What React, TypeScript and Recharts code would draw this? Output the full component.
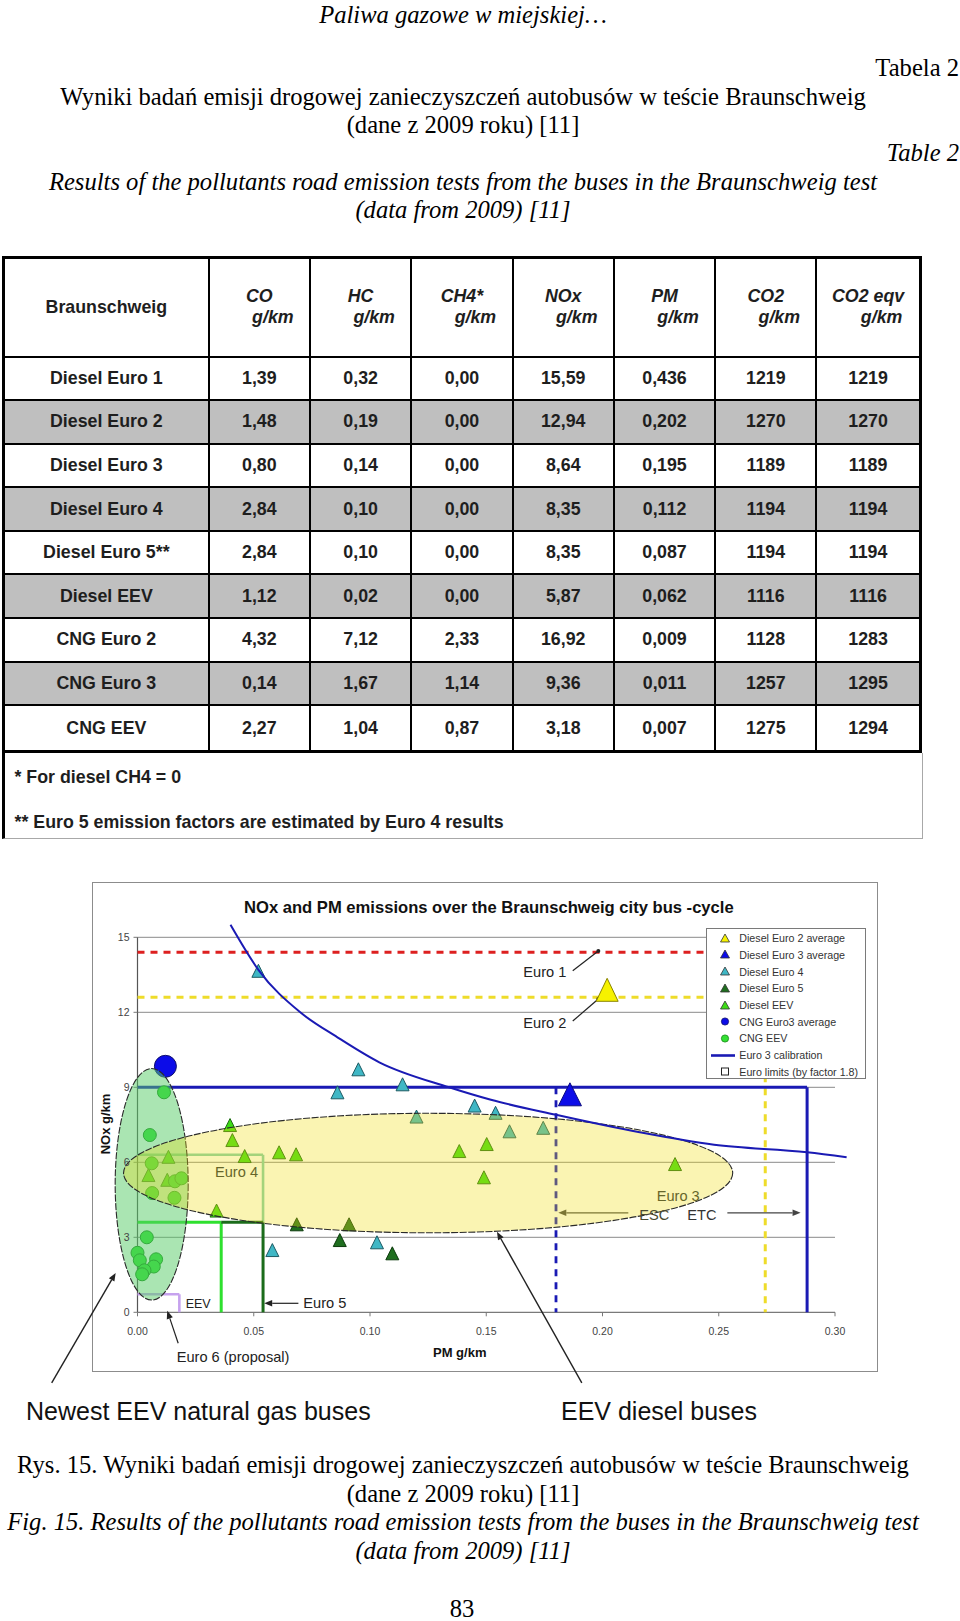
import React from 'react';
import { ScatterChart, Scatter, XAxis, YAxis, ReferenceLine, ReferenceArea } from 'recharts';

const SANS = '"Liberation Sans", Arial, sans-serif';
const SERIF = '"Liberation Serif", "Times New Roman", serif';

// ---- table data (Tabela 2) ----
const tableHead = ['CO', 'HC', 'CH4*', 'NOx', 'PM', 'CO2', 'CO2 eqv'];
const busTypes = ['Diesel Euro 1', 'Diesel Euro 2', 'Diesel Euro 3', 'Diesel Euro 4', 'Diesel Euro 5**', 'Diesel EEV', 'CNG Euro 2', 'CNG Euro 3', 'CNG EEV'];
const coValues = ['1,39', '1,48', '0,80', '2,84', '2,84', '1,12', '4,32', '0,14', '2,27'];
const hcValues = ['0,32', '0,19', '0,14', '0,10', '0,10', '0,02', '7,12', '1,67', '1,04'];
const ch4Values = ['0,00', '0,00', '0,00', '0,00', '0,00', '0,00', '2,33', '1,14', '0,87'];
const noxValues = ['15,59', '12,94', '8,64', '8,35', '8,35', '5,87', '16,92', '9,36', '3,18'];
const pmValues = ['0,436', '0,202', '0,195', '0,112', '0,087', '0,062', '0,009', '0,011', '0,007'];
const co2Values = ['1219', '1270', '1189', '1194', '1194', '1116', '1128', '1257', '1275'];
const co2eqvValues = ['1219', '1270', '1189', '1194', '1194', '1116', '1283', '1295', '1294'];
const tableNotes = ['* For diesel CH4 = 0', '** Euro 5 emission factors are estimated by Euro 4 results'];

// ---- chart data (Rys. 15) ----
const xTicks = [0, 0.05, 0.1, 0.15, 0.2, 0.25, 0.3];
const yTicks = [0, 3, 6, 9, 12, 15];
const xMax = 0.3;
const yMax = 15;

const dieselEuro2Avg = [{ x: 0.202, y: 12.9 }];
const dieselEuro3Avg = [{ x: 0.186, y: 8.72 }];
const dieselEuro4 = [
  { x: 0.052, y: 13.66 }, { x: 0.086, y: 8.8 }, { x: 0.095, y: 9.72 }, { x: 0.114, y: 9.12 },
  { x: 0.145, y: 8.27 }, { x: 0.154, y: 7.98 }, { x: 0.12, y: 7.83 }, { x: 0.16, y: 7.24 },
  { x: 0.1745, y: 7.38 }, { x: 0.058, y: 2.49 }, { x: 0.103, y: 2.8 },
];
const dieselEuro5 = [{ x: 0.0685, y: 3.52 }, { x: 0.091, y: 3.52 }, { x: 0.087, y: 2.89 }, { x: 0.1096, y: 2.36 }];
const dieselEEV = [
  { x: 0.0398, y: 7.49 }, { x: 0.0408, y: 6.89 }, { x: 0.0461, y: 6.25 }, { x: 0.0609, y: 6.4 },
  { x: 0.0682, y: 6.32 }, { x: 0.0133, y: 6.22 }, { x: 0.0047, y: 5.49 }, { x: 0.0128, y: 5.3 },
  { x: 0.034, y: 4.07 }, { x: 0.1384, y: 6.45 }, { x: 0.1502, y: 6.73 }, { x: 0.149, y: 5.4 },
  { x: 0.2312, y: 5.93 },
];
const cngEuro3Avg = [{ x: 0.012, y: 9.84 }];
const cngEEV = [
  { x: 0.0114, y: 8.8 }, { x: 0.0053, y: 7.09 }, { x: 0.0061, y: 5.96 }, { x: 0.0161, y: 5.24 },
  { x: 0.0189, y: 5.36 }, { x: 0.0063, y: 4.77 }, { x: 0.0159, y: 4.58 }, { x: 0.004, y: 3.0 },
  { x: 0.0, y: 2.38 }, { x: 0.001, y: 2.08 }, { x: 0.008, y: 2.12 }, { x: 0.007, y: 1.83 },
  { x: 0.003, y: 1.68 }, { x: 0.002, y: 1.52 },
];
const euro3Calibration = [
  { x: 0.04, y: 15.5 }, { x: 0.052, y: 13.7 }, { x: 0.07, y: 12.0 }, { x: 0.086, y: 11.0 },
  { x: 0.104, y: 10.0 }, { x: 0.134, y: 9.0 }, { x: 0.152, y: 8.5 }, { x: 0.18, y: 7.9 },
  { x: 0.216, y: 7.2 }, { x: 0.248, y: 6.7 }, { x: 0.288, y: 6.4 }, { x: 0.305, y: 6.2 },
];

// Euro limits multiplied by factor 1.8: Euro 1..6
const limitNox = [14.4, 12.6, 9.0, 6.3, 3.6, 0.72];
const limitPmEsc = [xMax, 0.27, 0.18, 0.054, 0.036, 0.018];
const limitPmEtc = [xMax, 0.27, 0.288, 0.054, 0.054, 0.018];

// highlighted groups (PM range, NOx range)
const cngEllipseX = [-0.0096, 0.0218];
const cngEllipseY = [0.49, 9.75];
const dieselEllipseX = [-0.006, 0.256];
const dieselEllipseY = [3.18, 7.96];

// annotation pointers [from, to] in PM / NOx units
const euro1Leader = [{ x: 0.1872, y: 13.66 }, { x: 0.1982, y: 14.45 }];
const euro2Leader = [{ x: 0.1872, y: 11.65 }, { x: 0.1982, y: 12.53 }];
const escArrow = [{ x: 0.2111, y: 3.98 }, { x: 0.181, y: 3.98 }];
const etcArrow = [{ x: 0.2537, y: 3.98 }, { x: 0.2852, y: 3.98 }];
const euro5Arrow = [{ x: 0.0692, y: 0.36 }, { x: 0.0545, y: 0.36 }];
const euro6Arrow = [{ x: 0.0175, y: -1.24 }, { x: 0.0128, y: 0.06 }];
const cngBusArrow = [{ x: -0.0369, y: -2.82 }, { x: -0.0094, y: 1.57 }];
const dieselBusArrow = [{ x: 0.1911, y: -2.82 }, { x: 0.1546, y: 3.22 }];

const legendLabels = [
  'Diesel Euro 2 average', 'Diesel Euro 3 average', 'Diesel Euro 4', 'Diesel Euro 5', 'Diesel EEV',
  'CNG Euro3 average', 'CNG EEV', 'Euro 3 calibration', 'Euro limits (by factor 1.8)',
];

const COL = {
  yellow: '#f6f200',
  blue: '#0c0ce8',
  teal: '#3fb7c5',
  dark: '#1f6e1f',
  green: '#3ddc16',
  cng: '#34e034',
  line: '#1a1ab4',
  red: '#dd2020',
  dash: '#eedc2a',
};

const T = ({ x = 0, y, w, align = 'left', size, family = SANS, weight = 400, italic = false, color = '#000', children }: any) => (
  <div
    style={{
      position: 'absolute', left: x, top: y, width: w, textAlign: align, fontSize: size, fontFamily: family,
      fontWeight: weight, fontStyle: italic ? 'italic' : 'normal', color, whiteSpace: 'nowrap', lineHeight: 1,
      transform: 'translateY(-50%)',
    }}
  >
    {children}
  </div>
);

const triangle = (fill: string, stroke: string, w: number, h: number) => (p: any) => {
  const cx = p.cx ?? 0;
  const cy = p.cy ?? 0;
  return (
    <polygon
      points={`${cx},${cy - h / 2} ${cx + w / 2},${cy + h / 2} ${cx - w / 2},${cy + h / 2}`}
      fill={fill}
      stroke={stroke}
      strokeWidth={1}
    />
  );
};

const circle = (fill: string, stroke: string, r: number) => (p: any) => (
  <circle cx={p.cx ?? 0} cy={p.cy ?? 0} r={r} fill={fill} stroke={stroke} strokeWidth={1} />
);

const ellipse = (fill: string, opacity: number) => (p: any) => {
  const { x = 0, y = 0, width = 0, height = 0 } = p;
  return (
    <ellipse
      cx={x + width / 2}
      cy={y + height / 2}
      rx={Math.abs(width) / 2}
      ry={Math.abs(height) / 2}
      fill={fill}
      fillOpacity={opacity}
      stroke="#2a2a2a"
      strokeWidth={1.1}
      strokeDasharray="7 1.5"
    />
  );
};

const pointer = (color: string, head: boolean, dot = false, width = 1.2) => (p: any) => {
  const { x1 = 0, y1 = 0, x2 = 0, y2 = 0 } = p;
  const a = Math.atan2(y2 - y1, x2 - x1);
  const L = 8;
  const W = 3.2;
  const hx = x2 - L * Math.cos(a);
  const hy = y2 - L * Math.sin(a);
  const pts = `${x2},${y2} ${hx - W * Math.sin(a)},${hy + W * Math.cos(a)} ${hx + W * Math.sin(a)},${hy - W * Math.cos(a)}`;
  return (
    <g>
      <line x1={x1} y1={y1} x2={head ? hx : x2} y2={head ? hy : y2} stroke={color} strokeWidth={width} />
      {head && <polygon points={pts} fill={color} />}
      {dot && <circle cx={x2} cy={y2} r={2} fill={color} />}
    </g>
  );
};

const seg = (x1: number, y1: number, x2: number, y2: number) => [{ x: x1, y: y1 }, { x: x2, y: y2 }];

const EmissionTable = () => {
  const columns = [coValues, hcValues, ch4Values, noxValues, pmValues, co2Values, co2eqvValues];
  const cell = (col: number, row: number, extra: any = {}) => ({
    boxSizing: 'border-box' as const,
    borderRight: col < 7 ? '2px solid #000' : 'none',
    borderBottom: row < 9 ? '2px solid #000' : 'none',
    display: 'flex',
    alignItems: 'center',
    justifyContent: 'center',
    background: row > 0 && row % 2 === 0 ? '#bfbfbf' : '#fff',
    ...extra,
  });
  return (
    <>
      <div
        style={{
          position: 'absolute', left: 2, top: 256, border: '3px solid #000', display: 'grid',
          gridTemplateColumns: '204.7px repeat(7, 101.3px)', gridTemplateRows: '98.5px repeat(9, 43.6px)',
          fontFamily: SANS, fontWeight: 700, fontSize: 17.8, color: '#1e1e1e',
        }}
      >
        <div style={cell(0, 0)}>Braunschweig</div>
        {tableHead.map((h, i) => (
          <div key={h} style={cell(i + 1, 0, { flexDirection: 'column', fontStyle: 'italic', lineHeight: '21.4px' })}>
            <span>{h}</span>
            <span style={{ paddingLeft: 27 }}>g/km</span>
          </div>
        ))}
        {busTypes.map((b, r) => (
          <React.Fragment key={b}>
            <div style={cell(0, r + 1)}>{b}</div>
            {columns.map((c, i) => (
              <div key={i} style={cell(i + 1, r + 1)}>{c[r]}</div>
            ))}
          </React.Fragment>
        ))}
      </div>
      <div
        style={{
          position: 'absolute', left: 2, top: 753, width: 921, height: 86, boxSizing: 'border-box',
          borderLeft: '3px solid #000', borderRight: '1px solid #a8a8a8', borderBottom: '1px solid #a8a8a8',
        }}
      />
      <T x={14.5} y={778} size={17.8} weight={700} color="#1e1e1e">{tableNotes[0]}</T>
      <T x={14.5} y={822.6} size={17.8} weight={700} color="#1e1e1e">{tableNotes[1]}</T>
    </>
  );
};

const legendSymbol = (i: number) => {
  if (i <= 4) {
    const fills = [COL.yellow, COL.blue, COL.teal, COL.dark, COL.green];
    return <polygon points="9,3 13.5,11 4.5,11" fill={fills[i]} stroke="#333" strokeWidth={0.8} />;
  }
  if (i === 5) return <circle cx={9} cy={7.5} r={3.6} fill={COL.blue} stroke="#10106a" strokeWidth={0.8} />;
  if (i === 6) return <circle cx={9} cy={7.5} r={3.6} fill={COL.cng} stroke="#138813" strokeWidth={0.8} />;
  if (i === 7) return <line x1={-5} y1={7.5} x2={19} y2={7.5} stroke={COL.line} strokeWidth={2.6} />;
  return <rect x={5.5} y={4} width={7} height={7} fill="#fff" stroke="#222" strokeWidth={1} />;
};

const ChartLegend = () => (
  <div
    style={{
      position: 'absolute', left: 705.7, top: 927.7, width: 160, height: 151.3, boxSizing: 'border-box',
      border: '1px solid #7a7a7a', background: '#fff', fontFamily: SANS, fontSize: 10.7, color: '#333',
    }}
  >
    {legendLabels.map((label, i) => (
      <div key={label} style={{ position: 'absolute', left: 0, top: 1.6 + i * 16.7, height: 16, display: 'flex', alignItems: 'center' }}>
        <svg width={18} height={15} style={{ marginLeft: 9.6, overflow: 'visible' }}>{legendSymbol(i)}</svg>
        <span style={{ marginLeft: 5, whiteSpace: 'nowrap' }}>{label}</span>
      </div>
    ))}
  </div>
);

const NoxPmChart = () => (
  <>
    <div
      style={{
        position: 'absolute', left: 92, top: 882, width: 786, height: 490, boxSizing: 'border-box',
        border: '1.5px solid #8c8c8c', background: '#fff',
      }}
    />
    <div style={{ position: 'absolute', left: 0, top: 882, width: 960, height: 560 }}>
      <ScatterChart width={960} height={560} margin={{ top: 40.3, right: 101.75, bottom: 99.7, left: 92.5 }}>
        <XAxis
          type="number"
          dataKey="x"
          domain={[0, 0.31]}
          ticks={xTicks}
          tickFormatter={(v: number) => v.toFixed(2)}
          axisLine={false}
          tickSize={4}
          tickLine={{ stroke: '#777' }}
          tickMargin={11}
          tick={{ fontSize: 10.5, fill: '#444', fontFamily: SANS }}
          height={30}
        />
        <YAxis
          type="number"
          dataKey="y"
          domain={[0, 15.6]}
          ticks={yTicks}
          axisLine={false}
          tickSize={4}
          tickLine={{ stroke: '#777' }}
          tickMargin={4}
          tick={{ fontSize: 10.5, fill: '#444', fontFamily: SANS }}
          width={45}
        />

        {yTicks.slice(1).map((v) => (
          <ReferenceLine key={`g${v}`} segment={seg(0, v, xMax, v)} stroke="#8a8a8a" strokeWidth={1} ifOverflow="visible" />
        ))}
        <ReferenceLine segment={seg(0, 0, xMax, 0)} stroke="#7a7a7a" strokeWidth={1.2} ifOverflow="visible" />
        <ReferenceLine segment={seg(0, 0, 0, yMax)} stroke="#555" strokeWidth={1.2} ifOverflow="visible" />

        {/* Euro 1 and Euro 2 */}
        <ReferenceLine segment={seg(0, limitNox[0], limitPmEtc[0], limitNox[0])} stroke={COL.red} strokeWidth={3} strokeDasharray="7 6" ifOverflow="visible" />
        <ReferenceLine segment={seg(0, limitNox[1], limitPmEtc[1], limitNox[1])} stroke={COL.dash} strokeWidth={3} strokeDasharray="7 6" ifOverflow="visible" />
        <ReferenceLine segment={seg(limitPmEtc[1], limitNox[1], limitPmEtc[1], 0)} stroke={COL.dash} strokeWidth={3} strokeDasharray="7 6" ifOverflow="visible" />
        {/* Euro 3 */}
        <ReferenceLine segment={seg(0, limitNox[2], limitPmEtc[2], limitNox[2])} stroke={COL.line} strokeWidth={3} ifOverflow="visible" />
        <ReferenceLine segment={seg(limitPmEtc[2], limitNox[2], limitPmEtc[2], 0)} stroke={COL.line} strokeWidth={3} ifOverflow="visible" />
        <ReferenceLine segment={seg(limitPmEsc[2], limitNox[2], limitPmEsc[2], 0)} stroke={COL.line} strokeWidth={2.8} strokeDasharray="7 6" ifOverflow="visible" />
        {/* Euro 4 */}
        <ReferenceLine segment={seg(0, limitNox[3], limitPmEtc[3], limitNox[3])} stroke="#80cfae" strokeWidth={2.6} ifOverflow="visible" />
        <ReferenceLine segment={seg(limitPmEtc[3], limitNox[3], limitPmEtc[3], limitNox[4])} stroke="#80cfae" strokeWidth={2.6} ifOverflow="visible" />
        {/* Euro 5 */}
        <ReferenceLine segment={seg(0, limitNox[4], limitPmEsc[4], limitNox[4])} stroke="#2ee02e" strokeWidth={3} ifOverflow="visible" />
        <ReferenceLine segment={seg(limitPmEsc[4], limitNox[4], limitPmEsc[4], 0)} stroke="#2ee02e" strokeWidth={3} ifOverflow="visible" />
        <ReferenceLine segment={seg(limitPmEsc[4], limitNox[4], limitPmEtc[4], limitNox[4])} stroke="#1b6c1b" strokeWidth={3} ifOverflow="visible" />
        <ReferenceLine segment={seg(limitPmEtc[4], limitNox[4], limitPmEtc[4], 0)} stroke="#1b6c1b" strokeWidth={3} ifOverflow="visible" />
        {/* Euro 6 proposal / EEV */}
        <ReferenceLine segment={seg(0, limitNox[5], limitPmEtc[5], limitNox[5])} stroke="#c6a2ee" strokeWidth={2.6} ifOverflow="visible" />
        <ReferenceLine segment={seg(limitPmEtc[5], limitNox[5], limitPmEtc[5], 0)} stroke="#c6a2ee" strokeWidth={2.6} ifOverflow="visible" />

        {/* annotation pointers */}
        <ReferenceLine segment={euro1Leader} shape={pointer('#222', false, true)} ifOverflow="visible" />
        <ReferenceLine segment={euro2Leader} shape={pointer('#222', false, true)} ifOverflow="visible" />
        <ReferenceLine segment={escArrow} shape={pointer('#444', true)} ifOverflow="visible" />
        <ReferenceLine segment={etcArrow} shape={pointer('#444', true)} ifOverflow="visible" />
        <ReferenceLine segment={euro5Arrow} shape={pointer('#222', true)} ifOverflow="visible" />
        <ReferenceLine segment={euro6Arrow} shape={pointer('#222', true)} ifOverflow="visible" />
        <ReferenceLine segment={cngBusArrow} shape={pointer('#222', true, false, 1.4)} ifOverflow="visible" />
        <ReferenceLine segment={dieselBusArrow} shape={pointer('#222', true, false, 1.4)} ifOverflow="visible" />

        <Scatter name="Diesel Euro 4" data={dieselEuro4} shape={triangle(COL.teal, '#1d5a62', 13, 13)} isAnimationActive={false} />
        <Scatter name="Diesel Euro 5" data={dieselEuro5} shape={triangle(COL.dark, '#0c3a0c', 13, 13)} isAnimationActive={false} />
        <Scatter name="Diesel EEV" data={dieselEEV} shape={triangle(COL.green, '#1d6a12', 13, 13)} isAnimationActive={false} />
        <Scatter name="CNG EEV" data={cngEEV} shape={circle(COL.cng, '#148814', 6.5)} isAnimationActive={false} />
        <Scatter name="Diesel Euro 2 average" data={dieselEuro2Avg} shape={triangle(COL.yellow, '#8a8400', 22, 23)} isAnimationActive={false} />
        <Scatter name="Diesel Euro 3 average" data={dieselEuro3Avg} shape={triangle(COL.blue, '#0a0a80', 23, 23)} isAnimationActive={false} />
        <Scatter name="CNG Euro3 average" data={cngEuro3Avg} shape={circle(COL.blue, '#10106a', 11)} isAnimationActive={false} />

        <ReferenceArea x1={cngEllipseX[0]} x2={cngEllipseX[1]} y1={cngEllipseY[0]} y2={cngEllipseY[1]} shape={ellipse('#55cc66', 0.5)} ifOverflow="visible" zIndex={650} />
        <ReferenceArea x1={dieselEllipseX[0]} x2={dieselEllipseX[1]} y1={dieselEllipseY[0]} y2={dieselEllipseY[1]} shape={ellipse('#eedd10', 0.32)} ifOverflow="visible" zIndex={660} />

        <Scatter
          name="Euro 3 calibration"
          data={euro3Calibration}
          line={{ stroke: COL.line, strokeWidth: 2 }}
          lineJointType="monotoneX"
          shape={() => <g />}
          isAnimationActive={false}
          zIndex={700}
        />
      </ScatterChart>
    </div>
    <T x={244} y={908} size={16.6} weight={700} color="#111">NOx and PM emissions over the Braunschweig city bus -cycle</T>
    <ChartLegend />
    <div
      style={{
        position: 'absolute', left: 105, top: 1124, fontFamily: SANS, fontWeight: 700, fontSize: 13, color: '#111',
        whiteSpace: 'nowrap', lineHeight: 1, transform: 'translate(-50%, -50%) rotate(-90deg)',
      }}
    >
      NOx g/km
    </div>
    <T x={433} y={1351.7} size={13} weight={700} color="#111">PM g/km</T>
    <T x={523.3} y={971.7} size={14.6} color="#222">Euro 1</T>
    <T x={523.3} y={1023.3} size={14.6} color="#222">Euro 2</T>
    <T x={215} y={1171.7} size={14.6} color="#66662a">Euro 4</T>
    <T x={656.7} y={1195.7} size={14.6} color="#66662a">Euro 3</T>
    <T x={639.3} y={1215} size={14.6} color="#4a4a30">ESC</T>
    <T x={687.3} y={1215} size={14.6} color="#333">ETC</T>
    <T x={185.7} y={1304} size={12.5} color="#222">EEV</T>
    <T x={303.3} y={1303.3} size={14.6} color="#222">Euro 5</T>
    <T x={176.7} y={1357.3} size={14.6} color="#222">Euro 6 (proposal)</T>
    <T x={26} y={1410.6} size={25} color="#111">Newest EEV natural gas buses</T>
    <T x={561} y={1410.6} size={25} color="#111">EEV diesel buses</T>
  </>
);

export default function App() {
  return (
    <div style={{ position: 'absolute', left: 0, top: 0, width: 960, height: 1621, background: '#fff', overflow: 'hidden' }}>
      <T y={15} w={926} align="center" size={24.6} family={SERIF} italic>Paliwa gazowe w miejskiej…</T>
      <T y={68.2} w={959} align="right" size={24.6} family={SERIF}>Tabela 2</T>
      <T y={97.1} w={926} align="center" size={24.6} family={SERIF}>Wyniki badań emisji drogowej zanieczyszczeń autobusów w teście Braunschweig</T>
      <T y={125} w={926} align="center" size={24.6} family={SERIF}>(dane z 2009 roku) [11]</T>
      <T y={153} w={959} align="right" size={24.6} family={SERIF} italic>Table 2</T>
      <T y={181.9} w={926} align="center" size={24.6} family={SERIF} italic>Results of the pollutants road emission tests from the buses in the Braunschweig test</T>
      <T y={209.8} w={926} align="center" size={24.6} family={SERIF} italic>(data from 2009) [11]</T>

      <EmissionTable />
      <NoxPmChart />

      <T y={1465.4} w={926} align="center" size={24.6} family={SERIF}>Rys. 15. Wyniki badań emisji drogowej zanieczyszczeń autobusów w teście Braunschweig</T>
      <T y={1494.3} w={926} align="center" size={24.6} family={SERIF}>(dane z 2009 roku) [11]</T>
      <T y={1522.2} w={926} align="center" size={24.6} family={SERIF} italic>Fig. 15. Results of the pollutants road emission tests from the buses in the Braunschweig test</T>
      <T y={1551.1} w={926} align="center" size={24.6} family={SERIF} italic>(data from 2009) [11]</T>
      <T y={1609} w={924} align="center" size={24.6} family={SERIF}>83</T>
    </div>
  );
}
